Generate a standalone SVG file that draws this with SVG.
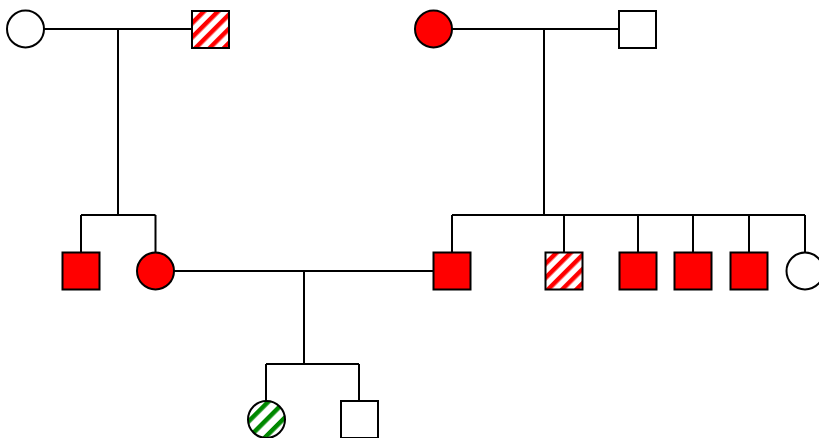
<svg xmlns="http://www.w3.org/2000/svg" width="819" height="438" viewBox="0 0 819 438">
<defs>
<pattern id="hr" patternUnits="userSpaceOnUse" width="10" height="10" patternTransform="rotate(45)">
<rect width="10" height="10" fill="#fff"/><rect width="4.5" height="10" fill="#f00"/>
</pattern>
<pattern id="hg" patternUnits="userSpaceOnUse" width="11.5" height="11.5" patternTransform="rotate(45)">
<rect width="11.5" height="11.5" fill="#fff"/><rect width="4.5" height="11.5" fill="#080"/>
</pattern>
<style>
.n{stroke:#000;stroke-width:2}
.w{fill:#fff}.r{fill:#f00}.hr{fill:url(#hr)}.hg{fill:url(#hg)}
.c{stroke:#000;stroke-width:2;fill:none}
</style>
</defs>
<g id="connectors">
<path class="c" d="M44,29H192M118,29V215M81,215H155.5M81,215V252M155.5,215V252"/>
<path class="c" d="M452,29H618M544,29V215M452,215H805M452,215V252M564,215V252M638,215V252M693,215V252M749,215V252M805,215V252"/>
<path class="c" d="M174,271H433M304,271V364M266,364H359M266,364V401M359,364V401"/>
</g>
<g id="g1_female"><circle class="n w" cx="25.5" cy="29" r="18.5"/></g>
<g id="g1_male"><rect class="n hr" x="192" y="11" width="37" height="37"/></g>
<g id="g1b_female"><circle class="n r" cx="433.5" cy="29" r="18.5"/></g>
<g id="g1b_male"><rect class="n w" x="619" y="11" width="37" height="37"/></g>
<g id="g2_son"><rect class="n r" x="62.5" y="252.5" width="37" height="37"/></g>
<g id="g2_daughter"><circle class="n r" cx="155.5" cy="271" r="18.5"/></g>
<g id="g2b_son1"><rect class="n r" x="433.5" y="252.5" width="37" height="37"/></g>
<g id="g2b_son2"><rect class="n hr" x="545.5" y="252.5" width="37" height="37"/></g>
<g id="g2b_son3"><rect class="n r" x="619.5" y="252.5" width="37" height="37"/></g>
<g id="g2b_son4"><rect class="n r" x="674.5" y="252.5" width="37" height="37"/></g>
<g id="g2b_son5"><rect class="n r" x="730.5" y="252.5" width="37" height="37"/></g>
<g id="g2b_daughter"><circle class="n w" cx="805" cy="271" r="18.5"/></g>
<g id="g3_daughter"><circle class="n hg" cx="266.5" cy="419.5" r="18.5"/></g>
<g id="g3_son"><rect class="n w" x="341" y="401" width="37" height="37"/></g>
</svg>
